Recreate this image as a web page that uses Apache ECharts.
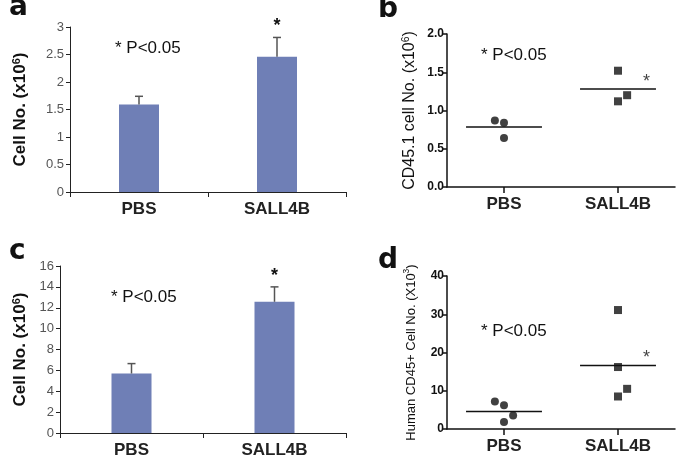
<!DOCTYPE html>
<html><head><meta charset="utf-8">
<script src="https://cdn.jsdelivr.net/npm/echarts@6/dist/echarts.min.js"></script>
<style>html,body{margin:0;padding:0;background:#fff}#c{width:685px;height:470px}</style>
</head><body><div id="c"></div>
<script>
// ---- data ----
var categories = ['PBS', 'SALL4B'];
// panel a (bar, mean + SEM)
var aMeans = [1.59, 2.46];
var aErrors = [0.15, 0.35];
var aSig = [false, true];
var aTicks = [0, 0.5, 1, 1.5, 2, 2.5, 3];
// panel c (bar)
var cMeans = [5.7, 12.57];
var cErrors = [0.95, 1.43];
var cSig = [false, true];
var cTicks = [0, 2, 4, 6, 8, 10, 12, 14, 16];
// panel b (dot plot) : [group jitter position, value]
var bPBS = [[-0.08, 0.87], [0, 0.84], [0, 0.64]];
var bSALL4B = [[0, 1.52], [0.08, 1.20], [0, 1.12]];
var bMeans = [0.785, 1.28];
var bSig = [false, true];
var bTicks = [0, 0.5, 1.0, 1.5, 2.0];
// panel d (dot plot)
var dPBS = [[-0.08, 7.2], [0, 6.2], [0.08, 3.55], [0, 1.8]];
var dSALL4B = [[0, 31.1], [0, 16.2], [0.08, 10.5], [0, 8.5]];
var dMeans = [4.6, 16.6];
var dSig = [false, true];
var dTicks = [0, 10, 20, 30, 40];
var pText = '* P<0.05';

var FONT = 'Liberation Sans, Arial, sans-serif';
var chart = echarts.init(document.getElementById('c'));

function barAxisY(grid, ticks, gap) {
  return {
    type: 'value', gridIndex: grid, min: ticks[0], max: ticks[ticks.length - 1],
    interval: ticks[1] - ticks[0],
    splitLine: {show: false},
    axisLine: {show: true, onZero: false, lineStyle: {color: '#222', width: 1}},
    axisTick: {show: true, length: 4, lineStyle: {color: '#222'}},
    axisLabel: {color: '#555', fontSize: 13, fontFamily: FONT, margin: 6},
    name: 'Cell No. (x10{sup|6})', nameLocation: 'middle', nameRotate: 90, nameGap: gap,
    nameTextStyle: {fontSize: 17, fontWeight: 'bold', color: '#111', fontFamily: FONT,
      rich: {sup: {fontSize: 11, fontWeight: 'bold', color: '#111', padding: [0, 0, 8, 0], fontFamily: FONT}}}
  };
}
function barAxisX(grid) {
  return {
    type: 'category', gridIndex: grid, data: categories, boundaryGap: true,
    axisLine: {show: true, onZero: false, lineStyle: {color: '#222', width: 1.2}},
    axisTick: {show: true, length: 5, lineStyle: {color: '#222'}},
    axisLabel: {fontSize: 17, fontWeight: 'bold', color: '#222', fontFamily: FONT, margin: 9}
  };
}
function dotAxisY(grid, ticks, name, sup, fs) {
  return {
    type: 'value', gridIndex: grid, min: ticks[0], max: ticks[ticks.length - 1],
    interval: ticks[1] - ticks[0],
    splitLine: {show: false},
    axisLine: {show: true, onZero: false, lineStyle: {color: '#111', width: 1.5}},
    axisTick: {show: true, length: 5, lineStyle: {color: '#111', width: 1.5}},
    axisLabel: {color: '#111', fontSize: 12, fontWeight: 'bold', fontFamily: FONT, margin: 3,
      formatter: function (v) { return ticks[1] - ticks[0] < 1 ? v.toFixed(1) : String(v); }},
    name: name + '{sup|' + sup + '})', nameLocation: 'middle', nameRotate: 90, nameGap: 28,
    nameTextStyle: {fontSize: fs, color: '#111', fontFamily: FONT,
      rich: {sup: {fontSize: fs * 0.65, color: '#111', padding: [0, 0, 8, 0], fontFamily: FONT}}}
  };
}
function dotAxisX(grid) {
  return {
    type: 'category', gridIndex: grid, data: categories, boundaryGap: true,
    axisLine: {show: true, onZero: false, lineStyle: {color: '#111', width: 1.5}},
    axisTick: {show: true, alignWithLabel: true, length: 6, lineStyle: {color: '#111', width: 1.5}},
    axisLabel: {fontSize: 17, fontWeight: 'bold', color: '#222', fontFamily: FONT, margin: 9}
  };
}
function hiddenX(grid) {
  return {type: 'value', gridIndex: grid, min: -0.5, max: 1.5, show: false,
    axisLine: {show: false}, splitLine: {show: false}};
}

function errSeries(xi, yi, means, errs, sig) {
  return {
    type: 'custom', xAxisIndex: xi, yAxisIndex: yi, z: 3,
    data: means.map(function (m, i) { return [i, m, m + errs[i], sig[i] ? 1 : 0]; }),
    renderItem: function (params, api) {
      var base = api.coord([api.value(0), api.value(1)]);
      var top = api.coord([api.value(0), api.value(2)]);
      var children = [
        {type: 'line', shape: {x1: base[0], y1: base[1], x2: top[0], y2: top[1]}, style: {stroke: '#555', lineWidth: 1.5}},
        {type: 'line', shape: {x1: top[0] - 4, y1: top[1], x2: top[0] + 4, y2: top[1]}, style: {stroke: '#555', lineWidth: 1.5}}
      ];
      if (api.value(3)) {
        children.push({type: 'text', style: {text: '*', x: top[0], y: top[1] - 2, align: 'center', verticalAlign: 'bottom',
          fontSize: 18, fontWeight: 'bold', fill: '#111', fontFamily: FONT}});
      }
      return {type: 'group', children: children};
    }
  };
}
function meanLines(xi, yi, means) {
  return means.map(function (m, i) {
    return {type: 'line', xAxisIndex: xi, yAxisIndex: yi, symbol: 'none', silent: true,
      lineStyle: {color: '#111', width: 1.5}, data: [[i - 0.333, m], [i + 0.333, m]]};
  });
}
function starSeries(xi, yi, means, sig) {
  var d = [];
  means.forEach(function (m, i) { if (sig[i]) d.push([i + 0.25, m]); });
  return {type: 'scatter', xAxisIndex: xi, yAxisIndex: yi, symbolSize: 0, data: d,
    label: {show: true, formatter: '*', position: 'top', distance: -2, fontSize: 18, color: '#111', fontFamily: FONT}};
}

var barColor = '#6F7FB6';
var series = [
  {type: 'bar', xAxisIndex: 0, yAxisIndex: 0, data: aMeans, barWidth: 40, itemStyle: {color: barColor}},
  errSeries(0, 0, aMeans, aErrors, aSig),
  {type: 'bar', xAxisIndex: 2, yAxisIndex: 2, data: cMeans, barWidth: 40, itemStyle: {color: barColor}},
  errSeries(2, 2, cMeans, cErrors, cSig),
  {type: 'scatter', xAxisIndex: 4, yAxisIndex: 1, symbol: 'circle', symbolSize: 8, itemStyle: {color: '#111'}, data: bPBS},
  {type: 'scatter', xAxisIndex: 4, yAxisIndex: 1, symbol: 'rect', symbolSize: 8, itemStyle: {color: '#111'},
    data: bSALL4B.map(function (p) { return [1 + p[0], p[1]]; })},
  {type: 'scatter', xAxisIndex: 5, yAxisIndex: 3, symbol: 'circle', symbolSize: 8, itemStyle: {color: '#111'}, data: dPBS},
  {type: 'scatter', xAxisIndex: 5, yAxisIndex: 3, symbol: 'rect', symbolSize: 8, itemStyle: {color: '#111'},
    data: dSALL4B.map(function (p) { return [1 + p[0], p[1]]; })},
  starSeries(4, 1, bMeans, bSig),
  starSeries(5, 3, dMeans, dSig)
].concat(meanLines(4, 1, bMeans)).concat(meanLines(5, 3, dMeans));

var labelStyle = {fontSize: 28, fontWeight: 900, fill: '#111', fontFamily: 'DejaVu Sans, sans-serif'};
var pStyle = {fontSize: 17, fill: '#111', fontFamily: FONT};
function txt(t, x, y, st) {
  return {type: 'text', left: x, top: y, style: Object.assign({text: t}, st)};
}

chart.setOption({
  animation: false,
  backgroundColor: '#fff',
  grid: [
    {left: 70, right: 339, top: 27, bottom: 278},
    {left: 447, right: 10, top: 34, bottom: 283},
    {left: 60, right: 339, top: 266, bottom: 37},
    {left: 447, right: 10, top: 276, bottom: 41}
  ],
  xAxis: [barAxisX(0), dotAxisX(1), barAxisX(2), dotAxisX(3), hiddenX(1), hiddenX(3)],
  yAxis: [
    barAxisY(0, aTicks, 40),
    dotAxisY(1, bTicks, 'CD45.1 cell No. (x10', '6', 16),
    barAxisY(2, cTicks, 30),
    dotAxisY(3, dTicks, 'Human CD45+ Cell No. (X10', '3', 13)
  ],
  series: series,
  graphic: [
    txt('a', 9, -6, labelStyle),
    txt('b', 378, -4, labelStyle),
    txt('c', 9, 238, labelStyle),
    txt('d', 378, 247, labelStyle),
    txt(pText, 115, 40, pStyle),
    txt(pText, 481, 47, pStyle),
    txt(pText, 111, 289, pStyle),
    txt(pText, 481, 323, pStyle)
  ]
});
</script></body></html>
